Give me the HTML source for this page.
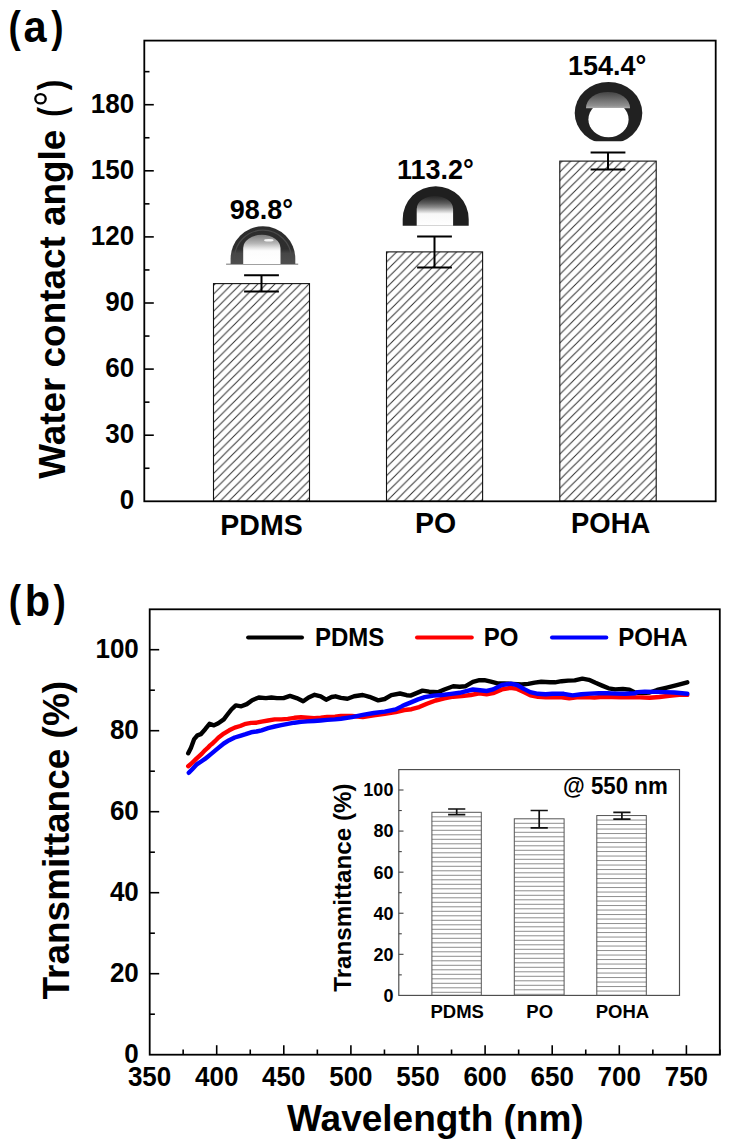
<!DOCTYPE html>
<html><head><meta charset="utf-8"><title>Figure</title>
<style>
html,body{margin:0;padding:0;background:#fff;}
body{width:731px;height:1148px;overflow:hidden;}
svg{display:block;}
text{font-family:"Liberation Sans", sans-serif;font-weight:bold;fill:#000;}
</style></head>
<body>
<svg width="731" height="1148" viewBox="0 0 731 1148">
<defs>
<pattern id="diag0" patternUnits="userSpaceOnUse" width="8.55" height="8.55" patternTransform="translate(3.150,0)"><rect width="8.55" height="8.55" fill="#fff"/><path d="M-2 2L2 -2M0 8.55L8.55 0M6.550000000000001 10.55L10.55 6.550000000000001" stroke="#2e2e2e" stroke-width="1.0"/></pattern><pattern id="diag1" patternUnits="userSpaceOnUse" width="8.55" height="8.55" patternTransform="translate(7.300,0)"><rect width="8.55" height="8.55" fill="#fff"/><path d="M-2 2L2 -2M0 8.55L8.55 0M6.550000000000001 10.55L10.55 6.550000000000001" stroke="#2e2e2e" stroke-width="1.0"/></pattern><pattern id="diag2" patternUnits="userSpaceOnUse" width="8.55" height="8.55" patternTransform="translate(5.000,0)"><rect width="8.55" height="8.55" fill="#fff"/><path d="M-2 2L2 -2M0 8.55L8.55 0M6.550000000000001 10.55L10.55 6.550000000000001" stroke="#2e2e2e" stroke-width="1.0"/></pattern>
<linearGradient id="g0" gradientUnits="userSpaceOnUse" x1="0" y1="226" x2="0" y2="264.1">
<stop offset="0" stop-color="#2c2c2c"/><stop offset="0.6" stop-color="#2e2e2e"/><stop offset="0.72" stop-color="#464646"/><stop offset="1" stop-color="#4e4e4e"/>
</linearGradient>
<linearGradient id="g1" gradientUnits="userSpaceOnUse" x1="0" y1="234.8" x2="0" y2="264">
<stop offset="0" stop-color="#7c7c7c"/><stop offset="0.12" stop-color="#949494"/><stop offset="0.3" stop-color="#b8b8b8"/><stop offset="0.45" stop-color="#e4e4e4"/><stop offset="0.55" stop-color="#fcfcfc"/><stop offset="1" stop-color="#fff"/>
</linearGradient>
<linearGradient id="g2" gradientUnits="userSpaceOnUse" x1="0" y1="196" x2="0" y2="225.7">
<stop offset="0" stop-color="#262626"/><stop offset="0.12" stop-color="#3c3c3c"/><stop offset="0.25" stop-color="#5e5e5e"/><stop offset="0.38" stop-color="#8c8c8c"/><stop offset="0.5" stop-color="#c8c8c8"/><stop offset="0.6" stop-color="#f8f8f8"/><stop offset="1" stop-color="#fff"/>
</linearGradient>
<linearGradient id="g3" gradientUnits="userSpaceOnUse" x1="0" y1="91.9" x2="0" y2="108.2">
<stop offset="0" stop-color="#444"/><stop offset="0.3" stop-color="#5e5e5e"/><stop offset="0.6" stop-color="#7a7a7a"/><stop offset="0.85" stop-color="#909090"/><stop offset="1" stop-color="#b0b0b0"/>
</linearGradient>
<clipPath id="c3"><rect x="560" y="70" width="100" height="71.2"/></clipPath>
<clipPath id="c4"><rect x="580" y="108" width="60" height="40"/></clipPath>
</defs>
<rect width="731" height="1148" fill="#fff"/>
<g transform="translate(8.56,41.90) scale(0.89,1.05)"><text x="0" y="0" font-size="41.5" text-anchor="start" >(</text></g>
<g transform="translate(23.57,41.90) scale(1.0,1.05)"><text x="0" y="0" font-size="41.5" text-anchor="start" >a</text></g>
<g transform="translate(51.36,41.90) scale(0.89,1.05)"><text x="0" y="0" font-size="41.5" text-anchor="start" >)</text></g>
<rect x="213.50" y="283.61" width="96.00" height="217.69" fill="url(#diag0)" stroke="#111" stroke-width="1.1"/>
<path d="M244.10 275.30H278.90M244.10 291.50H278.90M261.50 275.30V291.50" stroke="#000" stroke-width="2" fill="none"/>
<g transform="translate(261.50,535.30) scale(1.0,1.04)"><text x="0" y="0" font-size="28.5" text-anchor="middle" >PDMS</text></g>
<rect x="386.50" y="251.89" width="96.10" height="249.41" fill="url(#diag1)" stroke="#111" stroke-width="1.1"/>
<path d="M417.10 236.40H451.90M417.10 267.50H451.90M434.50 236.40V267.50" stroke="#000" stroke-width="2" fill="none"/>
<g transform="translate(435.55,532.60) scale(1.0,1.04)"><text x="0" y="0" font-size="28.5" text-anchor="middle" >PO</text></g>
<rect x="559.80" y="161.11" width="96.40" height="340.19" fill="url(#diag2)" stroke="#111" stroke-width="1.1"/>
<path d="M590.60 152.40H625.40M590.60 169.50H625.40M608.00 152.40V169.50" stroke="#000" stroke-width="2" fill="none"/>
<g transform="translate(610.65,532.60) scale(0.963,1.04)"><text x="0" y="0" font-size="28.5" text-anchor="middle" >POHA</text></g>
<rect x="144.3" y="40.6" width="571.40" height="460.70" fill="none" stroke="#000" stroke-width="1.8"/>
<g transform="translate(134.20,509.20) scale(1.0,1.04)"><text x="0" y="0" font-size="26" text-anchor="end" >0</text></g>
<path d="M144.3 435.20H153.80" stroke="#000" stroke-width="1.6"/>
<g transform="translate(134.20,443.10) scale(1.0,1.04)"><text x="0" y="0" font-size="26" text-anchor="end" >30</text></g>
<path d="M144.3 369.10H153.80" stroke="#000" stroke-width="1.6"/>
<g transform="translate(134.20,377.00) scale(1.0,1.04)"><text x="0" y="0" font-size="26" text-anchor="end" >60</text></g>
<path d="M144.3 303.00H153.80" stroke="#000" stroke-width="1.6"/>
<g transform="translate(134.20,310.90) scale(1.0,1.04)"><text x="0" y="0" font-size="26" text-anchor="end" >90</text></g>
<path d="M144.3 236.90H153.80" stroke="#000" stroke-width="1.6"/>
<g transform="translate(134.20,244.80) scale(1.0,1.04)"><text x="0" y="0" font-size="26" text-anchor="end" >120</text></g>
<path d="M144.3 170.81H153.80" stroke="#000" stroke-width="1.6"/>
<g transform="translate(134.20,178.71) scale(1.0,1.04)"><text x="0" y="0" font-size="26" text-anchor="end" >150</text></g>
<path d="M144.3 104.71H153.80" stroke="#000" stroke-width="1.6"/>
<g transform="translate(134.20,112.61) scale(1.0,1.04)"><text x="0" y="0" font-size="26" text-anchor="end" >180</text></g>
<path d="M144.3 468.25H149.50" stroke="#000" stroke-width="1.6"/>
<path d="M144.3 402.15H149.50" stroke="#000" stroke-width="1.6"/>
<path d="M144.3 336.05H149.50" stroke="#000" stroke-width="1.6"/>
<path d="M144.3 269.95H149.50" stroke="#000" stroke-width="1.6"/>
<path d="M144.3 203.85H149.50" stroke="#000" stroke-width="1.6"/>
<path d="M144.3 137.76H149.50" stroke="#000" stroke-width="1.6"/>
<path d="M144.3 71.66H149.50" stroke="#000" stroke-width="1.6"/>
<g transform="translate(64.50,478.80) rotate(-90) scale(1.0,1.0)"><text x="0" y="0" font-size="36.9" text-anchor="start" >Water contact angle</text></g>
<g transform="translate(64.40,116.70) rotate(-90) scale(0.8,1.0)"><text x="0" y="0" font-size="36.6" text-anchor="start" >(</text></g>
<g transform="translate(64.00,90.14) rotate(-90) scale(0.87,1.0)"><text x="0" y="0" font-size="36.0" text-anchor="start" >)</text></g>
<ellipse cx="40.5" cy="98.75" rx="5.2" ry="4.65" fill="none" stroke="#000" stroke-width="2.3"/>
<g transform="translate(261.50,218.60) scale(1.0,1.04)"><text x="0" y="0" font-size="27" text-anchor="middle" >98.8°</text></g>
<g transform="translate(435.30,178.70) scale(1.0,1.04)"><text x="0" y="0" font-size="27" text-anchor="middle" >113.2°</text></g>
<g transform="translate(607.20,75.40) scale(1.0,1.04)"><text x="0" y="0" font-size="27" text-anchor="middle" >154.4°</text></g>
<g transform="translate(8.76,616.10) scale(0.89,1.05)"><text x="0" y="0" font-size="41.5" text-anchor="start" >(</text></g>
<g transform="translate(24.70,616.10) scale(1.0,1.05)"><text x="0" y="0" font-size="41.5" text-anchor="start" >b</text></g>
<g transform="translate(53.56,616.10) scale(0.89,1.05)"><text x="0" y="0" font-size="41.5" text-anchor="start" >)</text></g>
<rect x="149.7" y="609.3" width="570.10" height="445.40" fill="none" stroke="#000" stroke-width="1.8"/>
<g transform="translate(138.80,1062.60) scale(1.0,1.04)"><text x="0" y="0" font-size="26" text-anchor="end" >0</text></g>
<path d="M149.7 973.70H159.20" stroke="#000" stroke-width="1.6"/>
<g transform="translate(138.80,981.60) scale(1.0,1.04)"><text x="0" y="0" font-size="26" text-anchor="end" >20</text></g>
<path d="M149.7 892.70H159.20" stroke="#000" stroke-width="1.6"/>
<g transform="translate(138.80,900.60) scale(1.0,1.04)"><text x="0" y="0" font-size="26" text-anchor="end" >40</text></g>
<path d="M149.7 811.70H159.20" stroke="#000" stroke-width="1.6"/>
<g transform="translate(138.80,819.60) scale(1.0,1.04)"><text x="0" y="0" font-size="26" text-anchor="end" >60</text></g>
<path d="M149.7 730.70H159.20" stroke="#000" stroke-width="1.6"/>
<g transform="translate(138.80,738.60) scale(1.0,1.04)"><text x="0" y="0" font-size="26" text-anchor="end" >80</text></g>
<path d="M149.7 649.70H159.20" stroke="#000" stroke-width="1.6"/>
<g transform="translate(138.80,657.60) scale(1.0,1.04)"><text x="0" y="0" font-size="26" text-anchor="end" >100</text></g>
<path d="M149.7 1014.20H154.90" stroke="#000" stroke-width="1.6"/>
<path d="M149.7 933.20H154.90" stroke="#000" stroke-width="1.6"/>
<path d="M149.7 852.20H154.90" stroke="#000" stroke-width="1.6"/>
<path d="M149.7 771.20H154.90" stroke="#000" stroke-width="1.6"/>
<path d="M149.7 690.20H154.90" stroke="#000" stroke-width="1.6"/>
<g transform="translate(149.60,1085.80) scale(1.0,1.04)"><text x="0" y="0" font-size="26" text-anchor="middle" >350</text></g>
<path d="M216.70 1054.7V1045.20" stroke="#000" stroke-width="1.6"/>
<g transform="translate(216.70,1085.80) scale(1.0,1.04)"><text x="0" y="0" font-size="26" text-anchor="middle" >400</text></g>
<path d="M283.80 1054.7V1045.20" stroke="#000" stroke-width="1.6"/>
<g transform="translate(283.80,1085.80) scale(1.0,1.04)"><text x="0" y="0" font-size="26" text-anchor="middle" >450</text></g>
<path d="M350.90 1054.7V1045.20" stroke="#000" stroke-width="1.6"/>
<g transform="translate(350.90,1085.80) scale(1.0,1.04)"><text x="0" y="0" font-size="26" text-anchor="middle" >500</text></g>
<path d="M418.00 1054.7V1045.20" stroke="#000" stroke-width="1.6"/>
<g transform="translate(418.00,1085.80) scale(1.0,1.04)"><text x="0" y="0" font-size="26" text-anchor="middle" >550</text></g>
<path d="M485.10 1054.7V1045.20" stroke="#000" stroke-width="1.6"/>
<g transform="translate(485.10,1085.80) scale(1.0,1.04)"><text x="0" y="0" font-size="26" text-anchor="middle" >600</text></g>
<path d="M552.20 1054.7V1045.20" stroke="#000" stroke-width="1.6"/>
<g transform="translate(552.20,1085.80) scale(1.0,1.04)"><text x="0" y="0" font-size="26" text-anchor="middle" >650</text></g>
<path d="M619.30 1054.7V1045.20" stroke="#000" stroke-width="1.6"/>
<g transform="translate(619.30,1085.80) scale(1.0,1.04)"><text x="0" y="0" font-size="26" text-anchor="middle" >700</text></g>
<path d="M686.40 1054.7V1045.20" stroke="#000" stroke-width="1.6"/>
<g transform="translate(686.40,1085.80) scale(1.0,1.04)"><text x="0" y="0" font-size="26" text-anchor="middle" >750</text></g>
<path d="M183.15 1054.7V1049.50" stroke="#000" stroke-width="1.6"/>
<path d="M250.25 1054.7V1049.50" stroke="#000" stroke-width="1.6"/>
<path d="M317.35 1054.7V1049.50" stroke="#000" stroke-width="1.6"/>
<path d="M384.45 1054.7V1049.50" stroke="#000" stroke-width="1.6"/>
<path d="M451.55 1054.7V1049.50" stroke="#000" stroke-width="1.6"/>
<path d="M518.65 1054.7V1049.50" stroke="#000" stroke-width="1.6"/>
<path d="M585.75 1054.7V1049.50" stroke="#000" stroke-width="1.6"/>
<path d="M652.85 1054.7V1049.50" stroke="#000" stroke-width="1.6"/>
<path d="M719.95 1054.7V1049.50" stroke="#000" stroke-width="1.6"/>
<g transform="translate(69.40,999.50) rotate(-90) scale(1.0,1.02)"><text x="0" y="0" font-size="37.0" text-anchor="start" >Transmittance (%)</text></g>
<g transform="translate(287.00,1131.00) scale(1.0,1.0)"><text x="0" y="0" font-size="37" text-anchor="start" >Wavelength (nm)</text></g>
<path d="M248.1 637.4H302.0" stroke="#000" stroke-width="4.0" stroke-linecap="round"/>
<g transform="translate(314.90,646.00) scale(1.0,1.04)"><text x="0" y="0" font-size="24" text-anchor="start" >PDMS</text></g>
<path d="M417.0 637.4H471.8" stroke="#f00" stroke-width="4.0" stroke-linecap="round"/>
<g transform="translate(483.80,646.00) scale(1.0,1.04)"><text x="0" y="0" font-size="24" text-anchor="start" >PO</text></g>
<path d="M552.0 637.4H606.3" stroke="#00f" stroke-width="4.0" stroke-linecap="round"/>
<g transform="translate(618.20,646.00) scale(1.0,1.04)"><text x="0" y="0" font-size="24" text-anchor="start" >POHA</text></g>
<path d="M188.2 753.3 L190.9 747.9 L194.2 739.1 L197.5 735.3 L200.8 734.2 L205.2 729.2 L209.5 723.8 L213.9 725.4 L218.3 723.2 L223.8 719.4 L227.1 715.0 L231.4 709.5 L235.8 705.4 L241.3 706.3 L246.8 704.1 L252.2 700.2 L258.8 697.5 L265.9 698.1 L271.4 697.5 L276.9 698.1 L283.5 698.1 L290.0 695.9 L296.6 698.1 L303.2 701.3 L308.6 697.5 L314.6 694.8 L320.7 696.4 L326.1 699.7 L331.6 697.0 L335.5 696.3 L340.9 697.9 L347.5 698.7 L354.1 696.3 L362.8 695.0 L369.4 696.8 L378.2 700.4 L384.7 699.0 L391.3 695.2 L400.0 693.5 L406.6 695.2 L410.5 695.6 L415.9 693.4 L422.5 690.6 L429.1 691.7 L437.8 692.3 L444.4 689.5 L453.2 686.3 L459.7 686.8 L465.2 686.3 L472.9 681.9 L479.4 680.2 L484.4 680.1 L490.9 681.7 L497.5 683.4 L504.1 683.4 L512.8 683.9 L521.6 684.5 L528.2 683.9 L534.7 682.6 L541.3 681.7 L550.0 682.3 L555.0 682.3 L561.6 681.2 L568.1 680.6 L574.7 680.4 L582.4 678.7 L588.9 679.8 L595.5 682.8 L602.1 685.6 L608.6 688.3 L615.2 689.4 L622.9 688.9 L629.4 689.6 L634.9 692.5 L642.3 693.1 L649.7 692.5 L657.1 690.0 L666.9 687.6 L676.8 685.1 L687.3 682.3" fill="none" stroke="#000" stroke-width="4.4" stroke-linejoin="round" stroke-linecap="round"/>
<path d="M188.2 766.2 L190.9 764.0 L193.7 761.3 L196.4 758.6 L199.2 756.1 L201.9 753.6 L204.6 750.6 L207.4 748.2 L210.1 745.4 L212.8 743.2 L215.6 740.5 L218.3 737.8 L223.8 733.6 L229.2 730.3 L234.7 727.6 L240.2 726.0 L245.7 723.8 L251.1 722.9 L256.5 722.7 L261.6 721.6 L268.1 720.5 L274.7 719.4 L281.3 719.4 L287.8 718.9 L294.4 717.8 L301.0 717.2 L307.5 717.8 L314.1 718.3 L320.7 717.8 L327.2 717.0 L335.0 716.7 L340.9 716.0 L351.9 716.0 L362.8 717.1 L373.8 715.4 L384.7 713.8 L395.7 712.1 L404.4 710.0 L411.6 709.2 L419.2 707.1 L426.9 703.8 L435.6 700.5 L444.4 698.3 L453.2 696.7 L461.9 696.1 L470.7 695.0 L479.4 693.4 L486.6 694.3 L493.1 693.2 L501.9 689.4 L510.6 687.8 L517.2 688.9 L523.8 692.1 L530.3 695.4 L538.0 696.8 L545.7 697.3 L552.2 697.1 L561.6 697.3 L569.2 698.2 L576.9 697.3 L585.6 697.1 L594.4 697.6 L603.2 696.8 L611.9 697.1 L620.7 697.3 L627.2 697.1 L639.8 697.4 L649.7 697.8 L659.5 697.0 L669.4 695.8 L679.2 694.9 L687.3 694.9" fill="none" stroke="#f00" stroke-width="4.4" stroke-linejoin="round" stroke-linecap="round"/>
<path d="M188.8 772.8 L192.5 768.9 L196.4 764.7 L201.9 761.0 L204.6 759.2 L207.4 757.0 L210.6 754.4 L217.2 748.9 L223.8 743.5 L229.2 740.2 L234.7 737.5 L240.2 735.8 L245.7 734.2 L251.1 732.3 L256.5 731.5 L261.6 730.3 L268.1 728.2 L274.7 726.5 L281.3 725.1 L287.8 723.8 L294.4 722.7 L301.0 721.9 L307.5 721.4 L314.1 721.0 L320.7 720.5 L327.2 719.9 L335.0 719.4 L340.9 718.7 L351.9 717.1 L362.8 714.9 L373.8 713.0 L384.7 711.6 L395.7 709.4 L402.2 706.1 L405.5 704.6 L411.6 702.1 L418.1 699.4 L424.7 697.2 L433.5 695.6 L442.2 695.0 L451.0 693.9 L459.7 692.8 L466.3 691.2 L472.9 689.5 L480.0 690.3 L486.6 691.0 L493.1 689.4 L501.9 685.0 L510.6 683.7 L517.2 685.0 L523.8 688.9 L530.3 692.1 L538.0 693.8 L545.7 694.3 L552.2 693.8 L560.0 693.8 L563.8 693.8 L572.5 695.4 L581.3 694.3 L590.0 693.6 L598.8 693.2 L607.5 693.2 L616.3 693.6 L625.0 693.8 L635.0 693.2 L637.4 692.1 L644.8 691.6 L654.6 691.9 L664.5 692.1 L674.3 692.5 L687.3 693.7" fill="none" stroke="#00f" stroke-width="4.4" stroke-linejoin="round" stroke-linecap="round"/>
<rect x="398.8" y="769.6" width="280.70" height="225.80" fill="#fff" stroke="#4a4a4a" stroke-width="1.15"/>
<path d="M431.90 816.80H481.30M431.90 821.30H481.30M431.90 825.80H481.30M431.90 830.30H481.30M431.90 834.80H481.30M431.90 839.30H481.30M431.90 843.80H481.30M431.90 848.30H481.30M431.90 852.80H481.30M431.90 857.30H481.30M431.90 861.80H481.30M431.90 866.30H481.30M431.90 870.80H481.30M431.90 875.30H481.30M431.90 879.80H481.30M431.90 884.30H481.30M431.90 888.80H481.30M431.90 893.30H481.30M431.90 897.80H481.30M431.90 902.30H481.30M431.90 906.80H481.30M431.90 911.30H481.30M431.90 915.80H481.30M431.90 920.30H481.30M431.90 924.80H481.30M431.90 929.30H481.30M431.90 933.80H481.30M431.90 938.30H481.30M431.90 942.80H481.30M431.90 947.30H481.30M431.90 951.80H481.30M431.90 956.30H481.30M431.90 960.80H481.30M431.90 965.30H481.30M431.90 969.80H481.30M431.90 974.30H481.30M431.90 978.80H481.30M431.90 983.30H481.30M431.90 987.80H481.30M431.90 992.30H481.30" stroke="#8e8e8e" stroke-width="1"/>
<rect x="431.90" y="812.30" width="49.40" height="183.10" fill="none" stroke="#555" stroke-width="1"/>
<path d="M448.10 809.00H465.30M448.10 814.70H465.30M456.70 809.00V814.70" stroke="#111" stroke-width="1.7" fill="none"/>
<g transform="translate(457.20,1018.00) scale(1.0,1.04)"><text x="0" y="0" font-size="18.5" text-anchor="middle" >PDMS</text></g>
<path d="M514.30 823.30H564.10M514.30 827.80H564.10M514.30 832.30H564.10M514.30 836.80H564.10M514.30 841.30H564.10M514.30 845.80H564.10M514.30 850.30H564.10M514.30 854.80H564.10M514.30 859.30H564.10M514.30 863.80H564.10M514.30 868.30H564.10M514.30 872.80H564.10M514.30 877.30H564.10M514.30 881.80H564.10M514.30 886.30H564.10M514.30 890.80H564.10M514.30 895.30H564.10M514.30 899.80H564.10M514.30 904.30H564.10M514.30 908.80H564.10M514.30 913.30H564.10M514.30 917.80H564.10M514.30 922.30H564.10M514.30 926.80H564.10M514.30 931.30H564.10M514.30 935.80H564.10M514.30 940.30H564.10M514.30 944.80H564.10M514.30 949.30H564.10M514.30 953.80H564.10M514.30 958.30H564.10M514.30 962.80H564.10M514.30 967.30H564.10M514.30 971.80H564.10M514.30 976.30H564.10M514.30 980.80H564.10M514.30 985.30H564.10M514.30 989.80H564.10M514.30 994.30H564.10" stroke="#8e8e8e" stroke-width="1"/>
<rect x="514.30" y="818.80" width="49.80" height="176.60" fill="none" stroke="#555" stroke-width="1"/>
<path d="M530.60 810.50H547.80M530.60 827.80H547.80M539.20 810.50V827.80" stroke="#111" stroke-width="1.7" fill="none"/>
<g transform="translate(539.70,1018.00) scale(1.0,1.04)"><text x="0" y="0" font-size="18.5" text-anchor="middle" >PO</text></g>
<path d="M596.80 820.05H646.30M596.80 824.55H646.30M596.80 829.05H646.30M596.80 833.55H646.30M596.80 838.05H646.30M596.80 842.55H646.30M596.80 847.05H646.30M596.80 851.55H646.30M596.80 856.05H646.30M596.80 860.55H646.30M596.80 865.05H646.30M596.80 869.55H646.30M596.80 874.05H646.30M596.80 878.55H646.30M596.80 883.05H646.30M596.80 887.55H646.30M596.80 892.05H646.30M596.80 896.55H646.30M596.80 901.05H646.30M596.80 905.55H646.30M596.80 910.05H646.30M596.80 914.55H646.30M596.80 919.05H646.30M596.80 923.55H646.30M596.80 928.05H646.30M596.80 932.55H646.30M596.80 937.05H646.30M596.80 941.55H646.30M596.80 946.05H646.30M596.80 950.55H646.30M596.80 955.05H646.30M596.80 959.55H646.30M596.80 964.05H646.30M596.80 968.55H646.30M596.80 973.05H646.30M596.80 977.55H646.30M596.80 982.05H646.30M596.80 986.55H646.30M596.80 991.05H646.30" stroke="#8e8e8e" stroke-width="1"/>
<rect x="596.80" y="815.55" width="49.50" height="179.85" fill="none" stroke="#555" stroke-width="1"/>
<path d="M613.30 812.30H630.50M613.30 819.10H630.50M621.90 812.30V819.10" stroke="#111" stroke-width="1.7" fill="none"/>
<g transform="translate(622.40,1018.00) scale(1.0,1.04)"><text x="0" y="0" font-size="18.5" text-anchor="middle" >POHA</text></g>
<g transform="translate(393.40,1001.80) scale(1.0,1.04)"><text x="0" y="0" font-size="18" text-anchor="end" >0</text></g>
<path d="M398.8 954.32H403.50" stroke="#444" stroke-width="1.1"/>
<g transform="translate(393.40,960.72) scale(1.0,1.04)"><text x="0" y="0" font-size="18" text-anchor="end" >20</text></g>
<path d="M398.8 913.24H403.50" stroke="#444" stroke-width="1.1"/>
<g transform="translate(393.40,919.64) scale(1.0,1.04)"><text x="0" y="0" font-size="18" text-anchor="end" >40</text></g>
<path d="M398.8 872.16H403.50" stroke="#444" stroke-width="1.1"/>
<g transform="translate(393.40,878.56) scale(1.0,1.04)"><text x="0" y="0" font-size="18" text-anchor="end" >60</text></g>
<path d="M398.8 831.08H403.50" stroke="#444" stroke-width="1.1"/>
<g transform="translate(393.40,837.48) scale(1.0,1.04)"><text x="0" y="0" font-size="18" text-anchor="end" >80</text></g>
<path d="M398.8 790.00H403.50" stroke="#444" stroke-width="1.1"/>
<g transform="translate(393.40,796.40) scale(1.0,1.04)"><text x="0" y="0" font-size="18" text-anchor="end" >100</text></g>
<path d="M398.8 974.86H401.80" stroke="#444" stroke-width="1.1"/>
<path d="M398.8 933.78H401.80" stroke="#444" stroke-width="1.1"/>
<path d="M398.8 892.70H401.80" stroke="#444" stroke-width="1.1"/>
<path d="M398.8 851.62H401.80" stroke="#444" stroke-width="1.1"/>
<path d="M398.8 810.54H401.80" stroke="#444" stroke-width="1.1"/>
<g transform="translate(350.80,991.80) rotate(-90) scale(1.0,1.0)"><text x="0" y="0" font-size="24.2" text-anchor="start" >Transmittance (%)</text></g>
<g transform="translate(563.00,794.20) scale(1.0,1.04)"><text x="0" y="0" font-size="22.3" text-anchor="start" >@ 550 nm</text></g>

<path d="M226.1 264.3H298.2" stroke="#a0a0a0" stroke-width="1.6"/>
<path d="M230.6 264.1V258.65A32.35 32.35 0 0 1 295.3 258.65V264.1Z" fill="url(#g0)"/>
<path d="M234.5 262V258.65A28.4 28.4 0 0 1 291.4 258.65V262" fill="none" stroke="#4a4a4a" stroke-width="1.2"/>
<path d="M243.2 264.1V248A18.65 13.2 0 0 1 280.5 248V264.1Z" fill="url(#g1)"/>
<ellipse cx="268.8" cy="240.3" rx="4.8" ry="1.3" fill="#f4f4f4"/>
<path d="M402.7 225.7V219.2A33 33 0 0 1 468.7 219.2V225.7Z" fill="#1f1f1f"/>
<path d="M416.7 225.7V209A18.2 13 0 0 1 453.1 209V225.7Z" fill="url(#g2)"/>
<g clip-path="url(#c3)">
<ellipse cx="608.5" cy="113.0" rx="33.8" ry="31" fill="#212121"/>
</g>
<path d="M586 108.2V107.9A22 16 0 0 1 630 107.9V108.2Z" fill="url(#g3)"/>
<g clip-path="url(#c4)"><ellipse cx="608.5" cy="119.4" rx="20.1" ry="17.9" fill="#fff"/></g>

</svg>
</body></html>
